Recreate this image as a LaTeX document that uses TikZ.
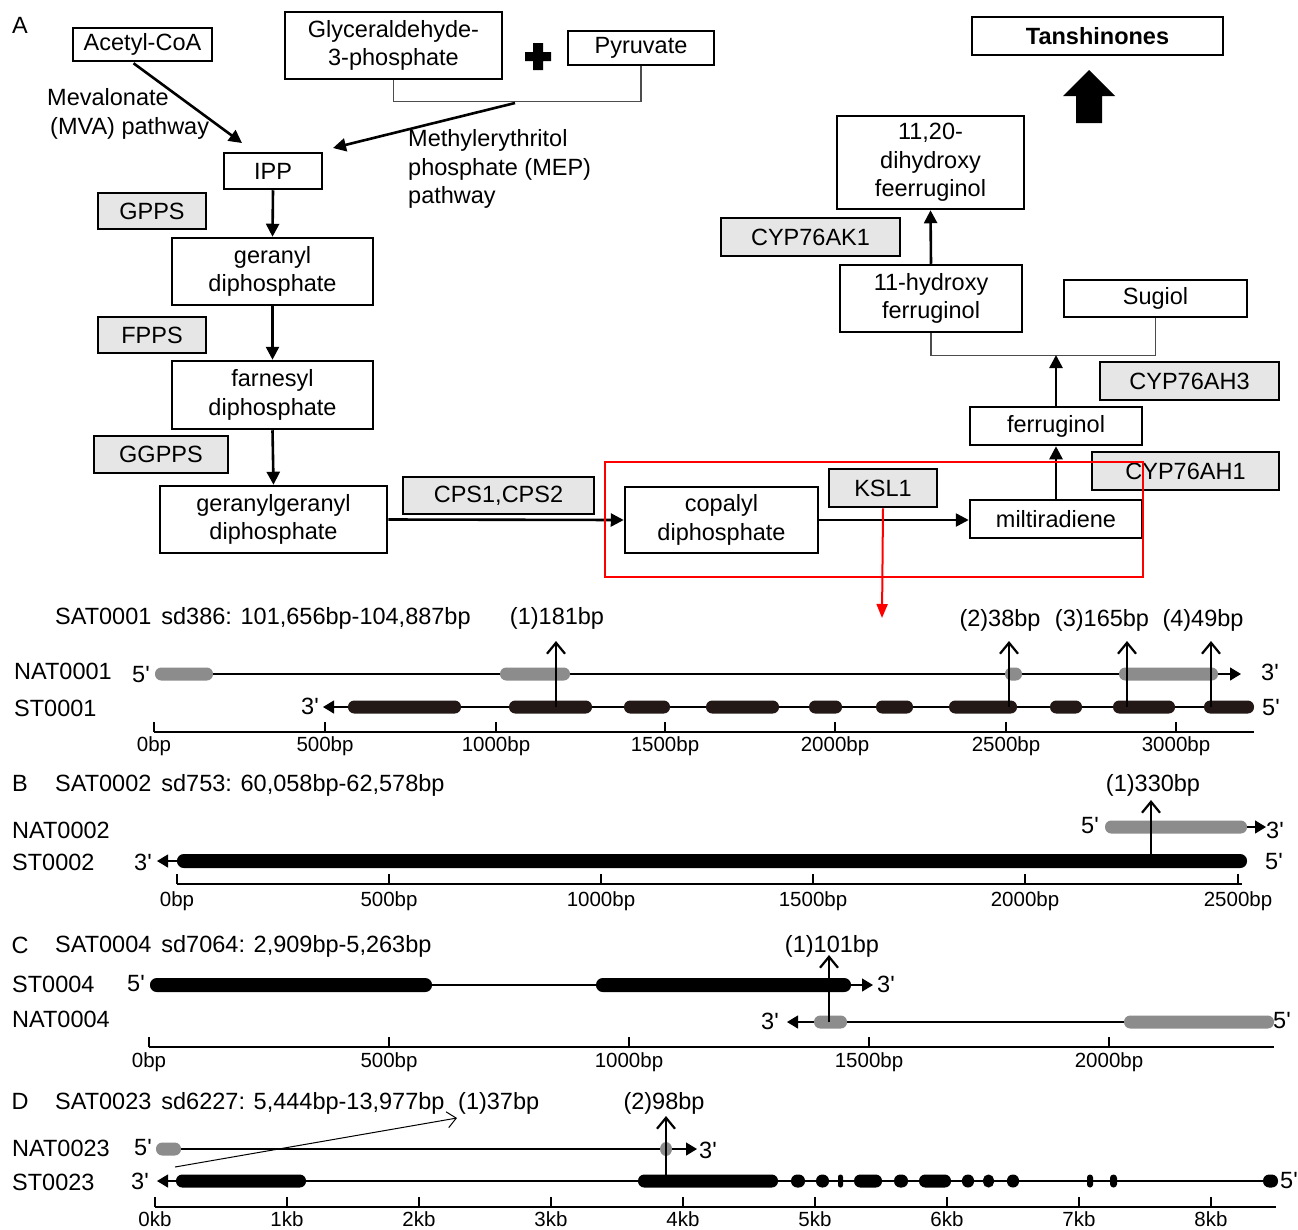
\documentclass[tikz,border=0pt]{standalone}
\usepackage{fontspec}
\setmainfont{Liberation Sans}
\usetikzlibrary{arrows.meta,calc}
\definecolor{gbox}{HTML}{E6E6E6}
\definecolor{gex}{HTML}{8C8C8C}
\definecolor{dex}{HTML}{231815}
\def\exh{13}
\newcommand\pr{\textquotesingle}
\newcommand\exonbar[4]{%
  \pgfmathsetmacro\exr{min(\exh/2-0.3,(#3-#2)/2-0.1)}%
  \fill[#1, rounded corners=\exr pt] (#2,#4-\exh/2) rectangle (#3,#4+\exh/2);}
\begin{document}
\begin{tikzpicture}[x=1pt,y=-1pt,
  every node/.style={font=\fontsize{23.5}{28.5}\selectfont, inner sep=1pt},
  box/.style={draw, line width=2.5pt, align=center, inner sep=2pt},
  enz/.style={box, fill=gbox},
  arr/.style={line width=2.6pt, -{Triangle[length=13pt,width=13pt]}},
  lbl/.style={anchor=west, inner sep=0pt},
  ticklbl/.style={font=\fontsize{20.5}{24}\selectfont},
  bb/.style={line width=1.3pt},
  endarr/.style={-{Triangle[length=11pt,width=13pt]}},
  barb/.style={line width=2.2pt, -{Straight Barb[length=11pt,width=18pt]}},
  brkline/.style={line width=1.2pt, draw=black!70}]
\useasboundingbox (0,0) rectangle (1298,1229);
% ---------- pathway ----------
\node[inner sep=0pt] (lA) at (20,25) {A};
\node[box, minimum width=139pt, minimum height=33pt] (acetyl) at (142.5,44.5) {Acetyl-CoA};
\node[box, minimum width=217pt, minimum height=67pt] (g3p) at (393.5,45.5) {Glyceraldehyde-\\3-phosphate};
\node[box, minimum width=146pt, minimum height=34pt] (pyr) at (641,48) {Pyruvate};
\fill (533,43) rectangle (543,70) (525,52) rectangle (551,61);
\node[box, minimum width=98pt, minimum height=36pt] (ipp) at (273,171) {IPP};
\node[enz, minimum width=108pt, minimum height=36pt] (gpps) at (152,211) {GPPS};
\node[box, minimum width=201pt, minimum height=67pt] (gpp) at (272.5,271.5) {geranyl\\diphosphate};
\node[enz, minimum width=108pt, minimum height=36pt] (fpps) at (152,335) {FPPS};
\node[box, minimum width=201pt, minimum height=68pt] (fpp) at (272.5,395) {farnesyl\\diphosphate};
\node[enz, minimum width=134pt, minimum height=37pt] (ggpps) at (161,454.5) {GGPPS};
\node[box, minimum width=227pt, minimum height=67pt] (ggpp) at (273.5,519.5) {geranylgeranyl\\diphosphate};
\node[enz, minimum width=191pt, minimum height=37pt] (cps) at (498.5,495.5) {CPS1,CPS2};
\node[box, minimum width=193pt, minimum height=66pt] (cpp) at (721.5,520) {copalyl\\diphosphate};
\node[enz, minimum width=108pt, minimum height=38pt] (ksl) at (883,488) {KSL1};
\node[box, minimum width=172pt, minimum height=38pt] (milt) at (1056,519) {miltiradiene};
\node[enz, minimum width=187pt, minimum height=38pt] (ah1) at (1185.5,471) {CYP76AH1};
\node[box, minimum width=172pt, minimum height=38pt] (ferr) at (1056,426) {ferruginol};
\node[enz, minimum width=179pt, minimum height=38pt] (ah3) at (1189.5,381) {CYP76AH3};
\node[box, minimum width=182pt, minimum height=67pt] (hferr) at (931,298.5) {11-hydroxy\\ferruginol};
\node[box, minimum width=183pt, minimum height=37pt] (sugiol) at (1155.5,298.5) {Sugiol};
\node[enz, minimum width=179pt, minimum height=38pt] (ak1) at (810.5,237) {CYP76AK1};
\node[box, minimum width=187pt, minimum height=93pt] (dhferr) at (930.5,162.5) {11,20-\\dihydroxy\\feerruginol};
\node[box, minimum width=251pt, minimum height=38pt, font=\fontsize{23.5}{28.5}\selectfont\bfseries] (tansh) at (1097.5,36) {Tanshinones};
\fill (1089,70) -- (1115,96) -- (1102,96) -- (1102,123) -- (1076,123) -- (1076,96) -- (1063,96) -- cycle;
\node[lbl, align=left] (mva) at (47,114) {Mevalonate\\\hspace{3pt}(MVA) pathway};
\node[lbl, align=left] (mep) at (408,169) {Methylerythritol\\phosphate (MEP)\\pathway};
\coordinate (mvaend) at (242,143);
\coordinate (mepstart) at (515,103);
\coordinate (mepend) at (333,148);
\coordinate (brk) at (1056,355);
\coordinate (redtip) at (882,618);
\draw[brkline] (g3p.south) -- ++(0,21) -| (pyr.south);
\draw[brkline] (hferr.south) -- ++(0,22) -| (sugiol.south);
\draw[arr] ($(acetyl.south)+(-9,1)$) -- (mvaend);
\draw[arr] (mepstart) -- (mepend);
\draw[arr] (ipp.south) -- (gpp.north);
\draw[arr] (gpp.south) -- (fpp.north);
\draw[arr] (fpp.south) -- (ggpp.north);
\draw[arr] (ggpp.east) -- (cpp.west);
\draw[arr] (cpp.east) -- (cpp.east -| milt.west);
\draw[arr] (milt.north) -- (ferr.south);
\draw[arr] (ferr.north) -- (brk);
\draw[arr] (hferr.north) -- (dhferr.south);
\node[draw=red, line width=2pt, minimum width=538pt, minimum height=115pt, inner sep=0pt] (redbox) at (874,519.5) {};
\draw[red, line width=2pt, -{Triangle[length=14pt,width=11pt]}] (ksl.south) -- (redtip);
% ---------- A genes ----------
\node[lbl] (hA) at (55,618) {SAT0001\hspace{10pt}sd386: 101,656bp-104,887bp};
\node (a1) at (557,618) {(1)181bp};
\node (a2) at (1000,620) {(2)38bp};
\node (a3) at (1102,620) {(3)165bp};
\node (a4) at (1203,620) {(4)49bp};
\node[lbl] (nA) at (14,671) {NAT0001};
\node[lbl] (sA) at (14,708) {ST0001};
\node (nA5) at (141,675) {5\pr};
\node (nA3) at (1270,672) {3\pr};
\node (sA3) at (310,706) {3\pr};
\node (sA5) at (1271,708) {5\pr};
\draw[bb, endarr] (155,674) -- (1241,674);
\foreach \a/\b in {155/213, 500/570, 1005/1022, 1119/1218} {\exonbar{gex}{\a}{\b}{674}}
\draw[bb, endarr] (1252,707) -- (323,707);
\foreach \a/\b in {348/461, 509/592, 624/670, 706/779, 809/842, 876/913, 949/1017, 1050/1082, 1113/1175, 1204/1254} {\exonbar{dex}{\a}{\b}{707}}
\foreach \x in {556,1009,1127,1211} {\draw[barb] (\x,707) -- (\x,641);}
\draw[bb] (154,732) -- (1254,732);
\foreach \x/\t [count=\i] in {154/0bp,325/500bp,496/1000bp,665/1500bp,835/2000bp,1006/2500bp,1176/3000bp} {
  \draw[bb] (\x,732) -- (\x,722);
  \node[ticklbl] (tA\i) at (\x,746) {\t};}
% ---------- B ----------
\node[inner sep=0pt] (lB) at (20,783) {B};
\node[lbl] (hB) at (55,785) {SAT0002\hspace{10pt}sd753: 60,058bp-62,578bp};
\node (b1) at (1153,785) {(1)330bp};
\node[lbl] (nB) at (12,830) {NAT0002};
\node[lbl] (sB) at (12,862) {ST0002};
\node (nB5) at (1090,826) {5\pr};
\node (nB3) at (1275,830) {3\pr};
\node (sB3) at (143,862) {3\pr};
\node (sB5) at (1274,862) {5\pr};
\draw[bb, endarr] (1105,827) -- (1266,827);
\exonbar{gex}{1105}{1247}{827}
\draw[bb, endarr] (1245,861) -- (157,861);
{\def\exh{14}\exonbar{black}{177}{1247}{861}}
\draw[barb] (1151,861) -- (1151,800);
\draw[bb] (177,884) -- (1242,884);
\foreach \x/\t [count=\i] in {177/0bp,389/500bp,601/1000bp,813/1500bp,1025/2000bp,1238/2500bp} {
  \draw[bb] (\x,884) -- (\x,874);
  \node[ticklbl] (tB\i) at (\x,901) {\t};}
% ---------- C ----------
\node[inner sep=0pt] (lC) at (20,945) {C};
\node[lbl] (hC) at (55,946) {SAT0004\hspace{10pt}sd7064: 2,909bp-5,263bp};
\node (c1) at (832,946) {(1)101bp};
\node[lbl] (sC) at (12,984) {ST0004};
\node[lbl] (nC) at (12,1019) {NAT0004};
\node (sC5) at (136,984) {5\pr};
\node (sC3) at (886,984) {3\pr};
\node (nC3) at (770,1021) {3\pr};
\node (nC5) at (1282,1021) {5\pr};
\draw[bb, endarr] (150,985) -- (873,985);
{\def\exh{14}\foreach \a/\b in {150/432, 596/851} {\exonbar{black}{\a}{\b}{985}}}
\draw[bb, endarr] (1274,1022) -- (787,1022);
\foreach \a/\b in {814/847, 1124/1274} {\exonbar{gex}{\a}{\b}{1022}}
\draw[barb] (829,1022) -- (829,955);
\draw[bb] (149,1047) -- (1274,1047);
\foreach \x/\t [count=\i] in {149/0bp,389/500bp,629/1000bp,869/1500bp,1109/2000bp} {
  \draw[bb] (\x,1047) -- (\x,1037);
  \node[ticklbl] (tC\i) at (\x,1062) {\t};}
% ---------- D ----------
\node[inner sep=0pt] (lD) at (20,1101) {D};
\node[lbl] (hD) at (55,1103) {SAT0023\hspace{10pt}sd6227: 5,444bp-13,977bp};
\node[lbl] (d1) at (458,1103) {(1)37bp};
\node (d2) at (664,1103) {(2)98bp};
\node[lbl] (nD) at (12,1148) {NAT0023};
\node[lbl] (sD) at (12,1182) {ST0023};
\node (nD5) at (143,1148) {5\pr};
\node (nD3) at (708,1150) {3\pr};
\node (sD3) at (140,1181) {3\pr};
\node (sD5) at (1289,1181) {5\pr};
\draw[bb, endarr] (156,1149) -- (697,1149);
\exonbar{gex}{156}{181}{1149}
\fill[gex] (666,1149) ellipse (6 and 7);
\draw[bb, endarr] (1278,1181) -- (157,1181);
\foreach \a/\b in {176/306, 638/778, 791/805, 816/829, 838/843, 854/882, 894/908, 919/951, 962/974, 983/994, 1007/1019, 1087/1093, 1110/1117, 1263/1278} {\exonbar{black}{\a}{\b}{1181}}
\draw[barb] (666,1181) -- (666,1116);
\draw[line width=1pt, -{Straight Barb[length=9pt,width=16pt]}] (175,1167) -- (457,1118);
\draw[bb] (155,1207) -- (1276,1207);
\foreach \kk [count=\i] in {0,...,8} {
  \pgfmathsetmacro\xx{155+132*\kk}
  \draw[bb] (\xx,1207) -- (\xx,1197);
  \node[ticklbl] (tD\i) at (\xx,1219) {\kk kb};}
\end{tikzpicture}
\end{document}
